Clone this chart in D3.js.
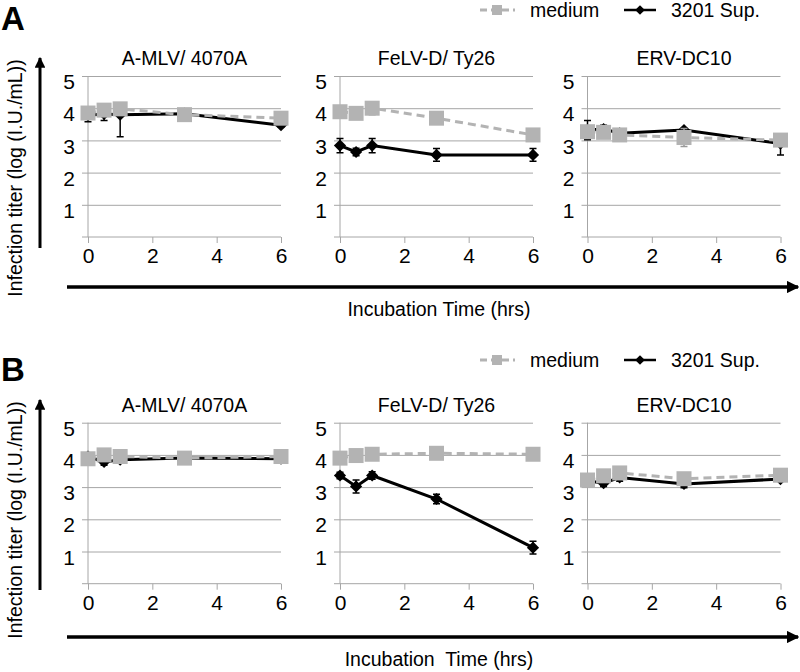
<!DOCTYPE html>
<html><head><meta charset="utf-8">
<script src="https://cdn.jsdelivr.net/npm/d3@7"></script>
<style>body{margin:0;background:#fff}svg{display:block;font-family:"Liberation Sans",Arial,sans-serif}</style>
</head><body>
<svg id="c" width="800" height="672"></svg>
<script>
const times = [0, 0.5, 1, 3, 6];
const viruses = ["A-MLV/ 4070A", "FeLV-D/ Ty26", "ERV-DC10"];
const seriesNames = ["medium", "3201 Sup."];
const yTicks = [1, 2, 3, 4, 5];
const xTicks = [0, 2, 4, 6];
const panelLabels = ["A", "B"];
const xTitles = ["Incubation Time (hrs)", "Incubation  Time (hrs)"];
const yTitle = "Infection titer (log (I.U./mL))";

// Panel A  (error values as [minus, plus])
const A_medium = [[3.85, 3.94, 3.98, 3.8, 3.69], [3.89, 3.84, 4.0, 3.69, 3.17], [3.27, 3.25, 3.17, 3.09, 3.01]];
const A_medium_err = [[[0.05,0.05],[0.05,0.05],[0.08,0.08],[0.05,0.05],[0.05,0.05]],
                      [[0.05,0.05],[0.05,0.05],[0.2,0.2],[0.05,0.05],[0.05,0.05]],
                      [[0.08,0.08],[0.05,0.05],[0.05,0.05],[0.28,0.28],[0.1,0.1]]];
const A_sup = [[3.78, 3.82, 3.8, 3.83, 3.47], [2.84, 2.64, 2.84, 2.55, 2.55], [3.32, 3.35, 3.22, 3.32, 2.9]];
const A_sup_err = [[[0.2,0],[0.2,0],[0.69,0],[0.05,0.05],[0.05,0.05]],
                   [[0.22,0.22],[0.12,0.12],[0.22,0.22],[0.2,0.2],[0.2,0.2]],
                   [[0.3,0.3],[0.12,0.12],[0.05,0.05],[0.05,0.05],[0.35,0.2]]];
// Panel B
const B_medium = [[3.88, 4.0, 3.95, 3.9, 3.95], [3.9, 3.98, 4.02, 4.05, 4.02], [3.22, 3.35, 3.44, 3.26, 3.37]];
const B_medium_err = [[[0.1,0.1],[0.05,0.05],[0.05,0.05],[0.15,0.15],[0.05,0.05]],
                      [[0.05,0.05],[0.05,0.05],[0.05,0.05],[0.05,0.05],[0.05,0.05]],
                      [[0.05,0.05],[0.08,0.08],[0.05,0.05],[0.05,0.05],[0.05,0.05]]];
const B_sup = [[3.95, 3.78, 3.85, 3.9, 3.88], [3.36, 3.02, 3.36, 2.63, 1.12], [3.2, 3.12, 3.3, 3.1, 3.25]];
const B_sup_err = [[[0.05,0.05],[0.1,0.1],[0.05,0.05],[0.05,0.05],[0.05,0.05]],
                   [[0.1,0.1],[0.2,0.2],[0.12,0.12],[0.15,0.15],[0.2,0.2]],
                   [[0.05,0.05],[0.1,0.1],[0.12,0.12],[0.12,0.12],[0.05,0.05]]];

const panels = [
  {label: panelLabels[0], medium: A_medium, mErr: A_medium_err, sup: A_sup, sErr: A_sup_err, top: 76, legendY: 10,
   letterY: 30, yLabMid: 178, vArrow: [248, 58], hArrow: 287, xTitleY: 316},
  {label: panelLabels[1], medium: B_medium, mErr: B_medium_err, sup: B_sup, sErr: B_sup_err, top: 422.7, legendY: 360,
   letterY: 381, yLabMid: 520, vArrow: [590, 400], hArrow: 637, xTitleY: 666}
];
const plotX = [88, 340, 587.5];
const plotW = 193, plotH = 161;
const GRAY = "#b3b3b3", GRID = "#a6a6a6";
const FONT = "Liberation Sans, Arial, sans-serif";

const svg = d3.select("#c");
const defs = svg.append("defs");
defs.append("marker").attr("id", "ah").attr("viewBox", "0 0 10 10").attr("refX", 9).attr("refY", 5)
  .attr("markerWidth", 3.6).attr("markerHeight", 3.6).attr("orient", "auto")
  .append("path").attr("d", "M0,0 L10,5 L0,10 z").attr("fill", "#000");

panels.forEach((p, pi) => {
  const g = svg.append("g");
  g.append("text").attr("x", 1).attr("y", p.letterY).attr("font-size", 33).attr("font-weight", "bold").text(p.label);
  const ly = p.legendY;
  g.append("line").attr("x1", 480).attr("x2", 515).attr("y1", ly).attr("y2", ly)
    .attr("stroke", GRAY).attr("stroke-width", 3).attr("stroke-dasharray", "7,4");
  g.append("rect").attr("x", 497 - 5).attr("y", ly - 5).attr("width", 10).attr("height", 10).attr("fill", GRAY);
  g.append("text").attr("x", 530).attr("y", ly + 7).attr("font-size", 19.5).text(seriesNames[0]);
  g.append("line").attr("x1", 624).attr("x2", 656).attr("y1", ly).attr("y2", ly)
    .attr("stroke", "#000").attr("stroke-width", 2.5);
  g.append("path").attr("d", d3.symbol(d3.symbolDiamond2, 60)()).attr("transform", `translate(640,${ly})`).attr("fill", "#000");
  g.append("text").attr("x", 671).attr("y", ly + 7).attr("font-size", 19.5).text(seriesNames[1]);

  g.append("text").attr("transform", `translate(22,${p.yLabMid}) rotate(-90)`).attr("text-anchor", "middle")
    .attr("font-size", 19.5).text(yTitle);
  g.append("line").attr("x1", 40).attr("x2", 40).attr("y1", p.vArrow[0]).attr("y2", p.vArrow[1])
    .attr("stroke", "#000").attr("stroke-width", 3).attr("marker-end", "url(#ah)");
  g.append("line").attr("x1", 67).attr("x2", 798).attr("y1", p.hArrow).attr("y2", p.hArrow)
    .attr("stroke", "#000").attr("stroke-width", 3.5).attr("marker-end", "url(#ah)");
  g.append("text").attr("x", 439).attr("y", p.xTitleY).attr("text-anchor", "middle").attr("font-size", 19.5)
    .attr("xml:space", "preserve").style("white-space", "pre").text(xTitles[pi]);

  viruses.forEach((v, vi) => {
    const x = d3.scaleLinear().domain([0, 6]).range([plotX[vi], plotX[vi] + plotW]);
    const y = d3.scaleLinear().domain([0, 5]).range([p.top + plotH, p.top]);
    const sg = g.append("g");
    const ya = d3.axisLeft(y).tickValues(yTicks).tickSize(-plotW).tickPadding(13).tickSizeOuter(0).tickFormat(d3.format("d"));
    const yg = sg.append("g").attr("transform", `translate(${plotX[vi]},0)`).call(ya);
    yg.select(".domain").remove();
    yg.selectAll(".tick line").attr("stroke", GRID).attr("x1", -6);
    yg.selectAll(".tick text").attr("font-size", 21).attr("fill", "#000").attr("dy", "0.6em").attr("font-family", FONT);
    sg.append("line").attr("x1", plotX[vi] - 6).attr("x2", plotX[vi] + plotW).attr("y1", y(0)).attr("y2", y(0)).attr("stroke", GRID);
    sg.append("line").attr("x1", plotX[vi]).attr("x2", plotX[vi]).attr("y1", y(0)).attr("y2", y(5)).attr("stroke", GRID);
    const xa = d3.axisBottom(x).tickValues(xTicks).tickSize(6).tickPadding(5).tickFormat(d3.format("d"));
    const xg = sg.append("g").attr("transform", `translate(0,${y(0)})`).call(xa);
    xg.select(".domain").remove();
    xg.selectAll(".tick line").attr("stroke", GRID);
    xg.selectAll(".tick text").attr("font-size", 21).attr("fill", "#000").attr("font-family", FONT);
    sg.append("text").attr("x", plotX[vi] + plotW / 2).attr("y", p.top - 11).attr("text-anchor", "middle")
      .attr("font-size", 19.5).text(v);

    const sup = times.map((t, i) => ({t, v: p.sup[vi][i], lo: p.sErr[vi][i][0], hi: p.sErr[vi][i][1]}));
    const med = times.map((t, i) => ({t, v: p.medium[vi][i], lo: p.mErr[vi][i][0], hi: p.mErr[vi][i][1]}));
    const line = d3.line().x(d => x(d.t)).y(d => y(d.v));
    const errPath = d => {
      const cx = x(d.t), a = y(d.v - d.lo), b = y(d.v + d.hi);
      let s = `M${cx},${a}V${b}`;
      if (d.lo > 0) s += `M${cx - 3.5},${a}h7`;
      if (d.hi > 0) s += `M${cx - 3.5},${b}h7`;
      return s;
    };
    sg.selectAll(null).data(sup).join("path").attr("d", errPath)
      .attr("stroke", "#000").attr("stroke-width", 1.5).attr("fill", "none");
    sg.append("path").datum(sup).attr("d", line).attr("fill", "none").attr("stroke", "#000").attr("stroke-width", 3);
    sg.selectAll(null).data(sup).join("path").attr("d", d3.symbol(d3.symbolDiamond2, 95)())
      .attr("transform", d => `translate(${x(d.t)},${y(d.v)})`).attr("fill", "#000");
    sg.selectAll(null).data(med).join("path").attr("d", errPath)
      .attr("stroke", "#999").attr("stroke-width", 1.5).attr("fill", "none");
    sg.append("path").datum(med).attr("d", line).attr("fill", "none").attr("stroke", GRAY).attr("stroke-width", 3).attr("stroke-dasharray", "8,5");
    sg.selectAll(null).data(med).join("rect")
      .attr("x", d => x(d.t) - 7.5).attr("y", d => y(d.v) - 7.5).attr("width", 15).attr("height", 15).attr("fill", GRAY);
  });
});
</script>
</body></html>
